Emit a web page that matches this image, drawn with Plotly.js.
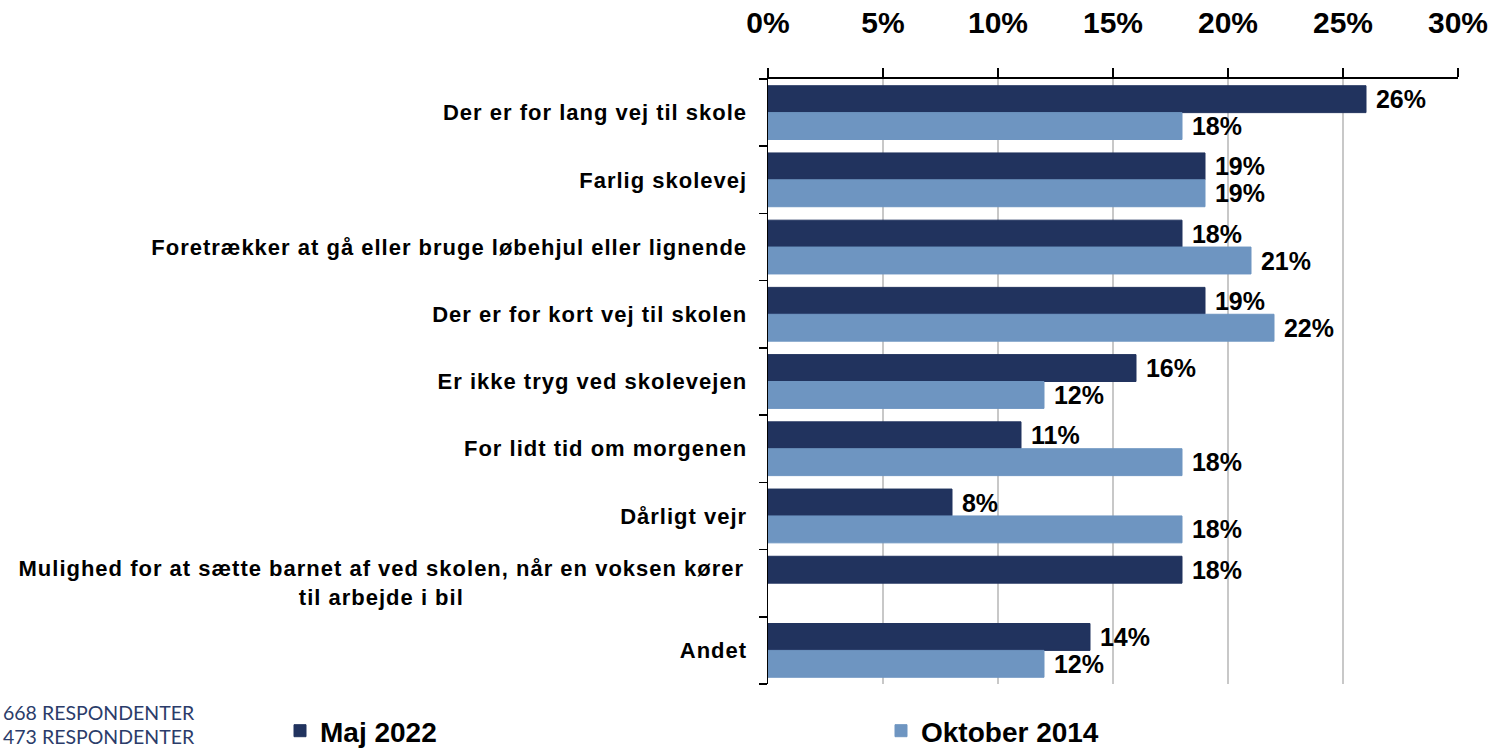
<!DOCTYPE html>
<html>
<head>
<meta charset="utf-8">
<script src="https://cdn.plot.ly/plotly-3.0.1.min.js"></script>
<style>
  html, body { margin: 0; padding: 0; background: #fff; }
  #chart { width: 1497px; height: 748px; }
  .yaxislayer-above text { letter-spacing: 1px; }
  .catlabel text { letter-spacing: 1px; }
</style>
</head>
<body>
<div id="chart"></div>
<script>
const categories = [
  "Der er for lang vej til skole",
  "Farlig skolevej",
  "Foretrækker at gå eller bruge løbehjul eller lignende",
  "Der er for kort vej til skolen",
  "Er ikke tryg ved skolevejen",
  "For lidt tid om morgenen",
  "Dårligt vejr",
  "Mulighed for at sætte barnet af ved skolen, når en voksen kører til arbejde i bil",
  "Andet"
];
// tick labels; the long two-line label is drawn centred as an annotation
const tickLabels = [
  "Der er for lang vej til skole",
  "Farlig skolevej",
  "Foretrækker at gå eller bruge løbehjul eller lignende",
  "Der er for kort vej til skolen",
  "Er ikke tryg ved skolevejen",
  "For lidt tid om morgenen",
  "Dårligt vejr",
  "",
  "Andet"
];
const wrappedLabel = "Mulighed for at sætte barnet af ved skolen, når en voksen kører<br>til arbejde i bil";
const seriesNames = ["Maj 2022", "Oktober 2014"];
const maj2022 = [26, 19, 18, 19, 16, 11, 8, 18, 14];
const okt2014 = [18, 19, 21, 22, 12, 18, 18, null, 12];
const xTicks = [0, 5, 10, 15, 20, 25, 30];
const respondentNotes = ["668 RESPONDENTER", "473 RESPONDENTER"];

const W = 1497, H = 748;
const M = { l: 768, r: 39, t: 79, b: 64 };
const plotW = W - M.l - M.r, plotH = H - M.t - M.b;
const px2x = px => (px - M.l) / plotW;
const py2y = py => (H - M.b - py) / plotH;

const colors = ["#21335e", "#6e95c1"];
const boldArial = "Arial, 'Liberation Sans', sans-serif";
const labelFont = { family: boldArial, size: 25, color: "#000", weight: "bold" };
const catFont = { family: boldArial, size: 22, color: "#000", weight: "bold" };

const traces = [maj2022, okt2014].map((vals, i) => ({
  type: "bar",
  orientation: "h",
  name: seriesNames[i],
  y: categories,
  x: vals,
  marker: { color: colors[i], line: { color: colors[i], width: 1 } },
  text: vals.map(v => v == null ? "" : "\u00a0" + v + "%"),
  texttemplate: "%{text}",
  textposition: "outside",
  textfont: labelFont,
  outsidetextfont: labelFont,
  constraintext: "none",
  cliponaxis: false,
  hoverinfo: "x+y"
}));

const annotations = respondentNotes.map((t, i) => ({
  text: t,
  xref: "paper", yref: "paper",
  x: px2x(1), xanchor: "left",
  y: py2y(712 + i * 24), yanchor: "middle",
  showarrow: false,
  font: { family: "Lato, 'Open Sans', sans-serif", size: 19.5, color: "#2b3c6a" }
}));
annotations.push({
  text: wrappedLabel,
  xref: "paper", yref: "y",
  x: px2x(381), xanchor: "center",
  y: categories[7], yanchor: "middle",
  align: "center",
  showarrow: false,
  font: catFont
});

const layout = {
  width: W, height: H,
  margin: { l: M.l, r: M.r, t: M.t, b: M.b, autoexpand: false },
  paper_bgcolor: "#fff",
  plot_bgcolor: "#fff",
  barmode: "group",
  bargap: 0.2,
  bargroupgap: 0,
  showlegend: true,
  legend: {
    orientation: "h",
    x: px2x(280), xanchor: "left",
    y: py2y(731), yanchor: "middle",
    entrywidth: 556, entrywidthmode: "pixels",
    font: { family: boldArial, size: 28, color: "#000", weight: "bold" },
    traceorder: "normal",
    bgcolor: "rgba(0,0,0,0)"
  },
  xaxis: {
    side: "top",
    range: [0, 30],
    tickvals: xTicks,
    ticktext: xTicks.map(v => v + "%"),
    showgrid: true, gridcolor: "#c8c8c8", gridwidth: 1.5,
    zeroline: false,
    showline: true, linecolor: "#000", linewidth: 2,
    ticks: "outside", ticklen: 9, tickcolor: "#000", tickwidth: 1.5,
    ticklabelstandoff: 23,
    tickfont: { family: boldArial, size: 30, color: "#000", weight: "bold" },
    fixedrange: true
  },
  yaxis: {
    type: "category",
    autorange: "reversed",
    tickvals: categories,
    ticktext: tickLabels,
    tickson: "boundaries",
    ticks: "outside", ticklen: 8, tickcolor: "#000", tickwidth: 1.5,
    showline: true, linecolor: "#000", linewidth: 1.5,
    showgrid: false,
    ticklabelstandoff: 15,
    tickfont: catFont,
    fixedrange: true
  },
  annotations: annotations
};

Plotly.newPlot("chart", traces, layout, { displayModeBar: false, staticPlot: true }).then(gd => {
  // give the wrapped category label the same letter spacing as the tick labels
  gd.querySelectorAll(".annotation").forEach(a => {
    const t = a.querySelector("text");
    if (t && t.textContent.indexOf("Mulighed") === 0) a.classList.add("catlabel");
  });
});
</script>
</body>
</html>
